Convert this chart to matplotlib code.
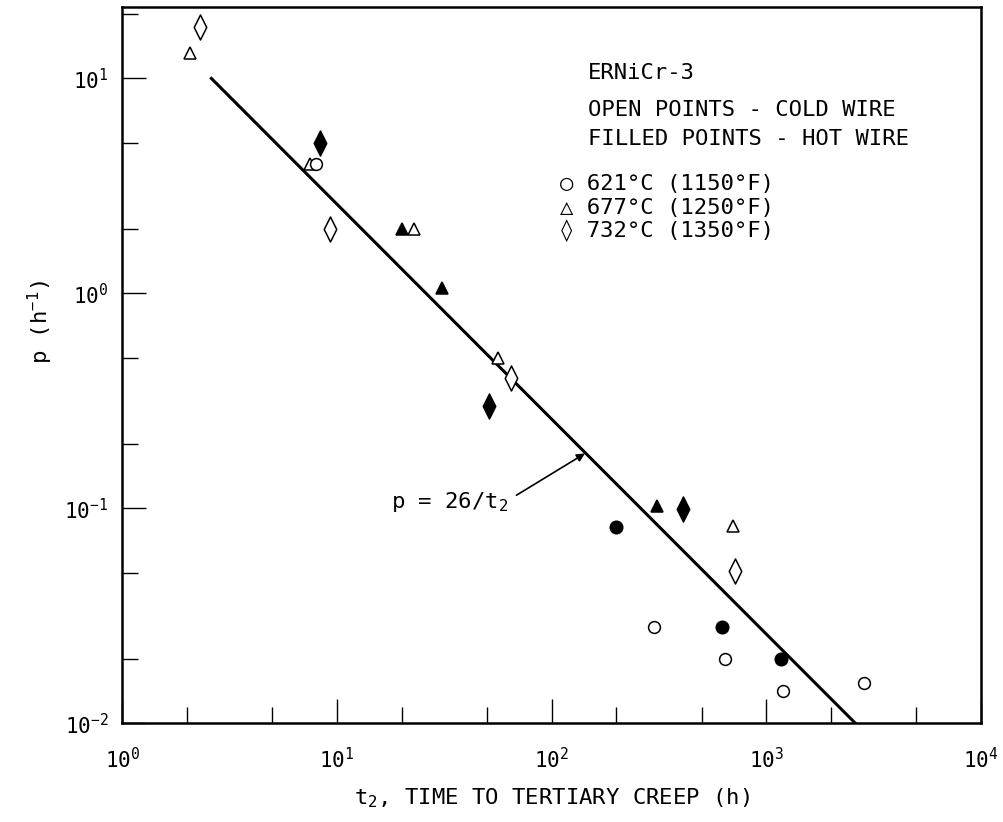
import numpy as np
import matplotlib
matplotlib.use('Agg')
import matplotlib.pyplot as plt
from matplotlib.path import Path
from matplotlib.ticker import LogLocator, NullFormatter

plt.rcParams['font.family'] = ['DejaVu Sans Mono', 'DejaVu Sans']
plt.rcParams['font.size'] = 16
plt.rcParams['mathtext.fontset'] = 'custom'
plt.rcParams['mathtext.rm'] = 'DejaVu Sans Mono'
plt.rcParams['mathtext.it'] = 'DejaVu Sans Mono'
plt.rcParams['mathtext.bf'] = 'DejaVu Sans Mono'

# 621 C (1150 F) - circles
t_621_cold = [8.0, 300, 640, 1200, 2840]
p_621_cold = [4.0, 0.028, 0.020, 0.0142, 0.0154]
t_621_hot = [200, 620, 1170]
p_621_hot = [0.082, 0.028, 0.020]

# 677 C (1250 F) - triangles
t_677_cold = [2.07, 7.5, 22.8, 56, 700]
p_677_cold = [13.1, 4.0, 2.0, 0.5, 0.083]
t_677_hot = [20, 30.7, 311]
p_677_hot = [2.0, 1.06, 0.1025]

# 732 C (1350 F) - diamonds
t_732_cold = [2.3, 9.3, 65, 717]
p_732_cold = [17.4, 2.0, 0.405, 0.0513]
t_732_hot = [8.3, 51, 411]
p_732_hot = [5.0, 0.30, 0.099]

# fitted line p = 26/t2
fit_const = 26.0
p_fit_range = [10.0, 0.01]

diamond = Path([(0, 1), (0.5, 0), (0, -1), (-0.5, 0), (0, 1)],
               [Path.MOVETO, Path.LINETO, Path.LINETO, Path.LINETO, Path.CLOSEPOLY])

fig = plt.figure(figsize=(10.04, 8.22), dpi=100)
ax = fig.add_axes([0.1218, 0.1201, 0.8553, 0.8708])

t_fit = np.array([fit_const / p for p in p_fit_range])
ax.plot(t_fit, fit_const / t_fit, color='k', lw=2.2, zorder=2)

mk = dict(ls='none', mec='k', mew=1.1, zorder=3)
ax.plot(t_677_cold, p_677_cold, marker='^', ms=9, mfc='white', **mk)
ax.plot(t_677_hot, p_677_hot, marker='^', ms=9, mfc='k', **mk)
ax.plot(t_621_cold, p_621_cold, marker='o', ms=8.5, mfc='white', **mk)
ax.plot(t_621_hot, p_621_hot, marker='o', ms=9, mfc='k', **mk)
ax.plot(t_732_cold, p_732_cold, marker=diamond, ms=18, mfc='white', **mk)
ax.plot(t_732_hot, p_732_hot, marker=diamond, ms=18, mfc='k', **mk)

ax.set_xscale('log')
ax.set_yscale('log')
ax.set_xlim(1, 1e4)
ax.set_ylim(1e-2, 10 ** 1.33)

for axis in (ax.xaxis, ax.yaxis):
    axis.set_major_locator(LogLocator(base=10, numticks=10))
    axis.set_minor_locator(LogLocator(base=10, subs=(2.0, 5.0), numticks=10))
    axis.set_minor_formatter(NullFormatter())

ax.tick_params(which='both', direction='in', top=False, right=False, width=1.0)
ax.tick_params(which='major', length=17, labelsize=15)
ax.tick_params(which='minor', length=11.5)
ax.tick_params(axis='x', which='major', pad=17)
ax.tick_params(axis='y', which='major', pad=10)
for s in ax.spines.values():
    s.set_linewidth(1.8)

ax.set_xlabel('t$_2$, TIME TO TERTIARY CREEP (h)', labelpad=10)
fig.text(40 / 1004, 1 - 322 / 822, 'p (h$^{-1}$)', rotation=90,
         ha='center', va='center')

# fit label with leader arrow
ax.text(63, 0.1, 'p = 26/t$_2$', ha='right', va='baseline')
ax.annotate('', xy=(143, 0.18), xytext=(68.5, 0.115),
            arrowprops=dict(arrowstyle='-|>', color='k', lw=1.2,
                            mutation_scale=12, shrinkA=0, shrinkB=0))

# key block
ax.text(0.542, 0.900, 'ERNiCr-3', transform=ax.transAxes, va='baseline')
ax.text(0.542, 0.848, 'OPEN POINTS - COLD WIRE', transform=ax.transAxes, va='baseline')
ax.text(0.542, 0.808, 'FILLED POINTS - HOT WIRE', transform=ax.transAxes, va='baseline')
ax.text(0.510, 0.745, '\u25cb 621\u00b0C (1150\u00b0F)', transform=ax.transAxes, va='baseline')
ax.text(0.510, 0.712, '\u25b3 677\u00b0C (1250\u00b0F)', transform=ax.transAxes, va='baseline')
ax.text(0.510, 0.679, '\u25ca 732\u00b0C (1350\u00b0F)', transform=ax.transAxes, va='baseline')

fig.savefig('out.png', dpi=100)
